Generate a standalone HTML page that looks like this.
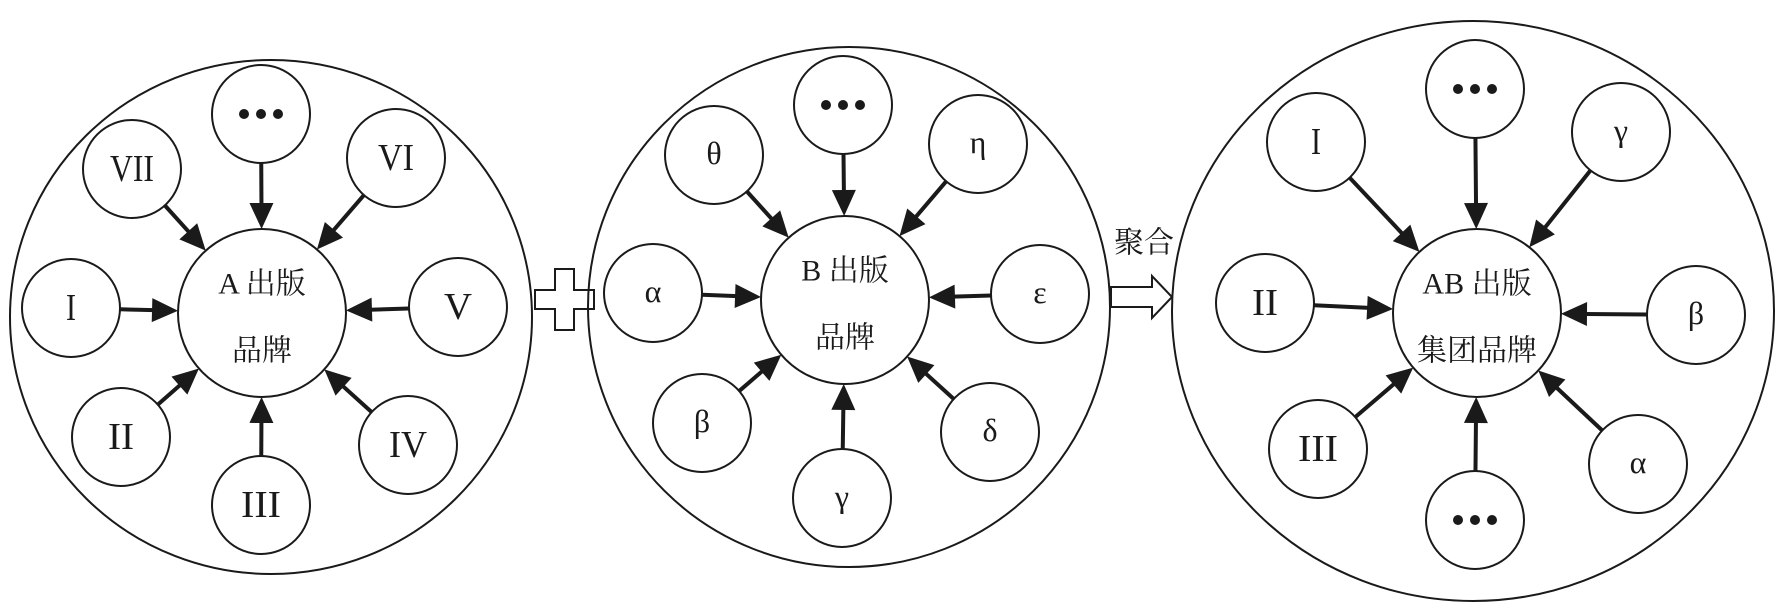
<!DOCTYPE html>
<html><head><meta charset="utf-8">
<style>
html,body{margin:0;padding:0;background:#fff;}
svg{display:block;}
text{font-family:"Liberation Serif","Noto Serif CJK SC",serif;fill:#1a1a1a;text-anchor:middle;dominant-baseline:central;}
.cn{font-family:"Liberation Serif","Noto Serif CJK SC",serif;font-size:30px;}
</style></head>
<body>
<svg id="s" width="1783" height="609" viewBox="0 0 1783 609" xmlns="http://www.w3.org/2000/svg">
<g fill="none" stroke="#1a1a1a" stroke-width="2">
<ellipse cx="271" cy="317" rx="261" ry="257"/>
<ellipse cx="849" cy="307" rx="261" ry="260"/>
<ellipse cx="1473" cy="311" rx="301" ry="290"/>
<path d="M555 269 H574 V290 H594 V309 H574 V330 H555 V309 H535 V290 H555 Z" stroke-width="2"/>
<path d="M1111 287 H1152 V276 L1172 297 L1152 318 V307 H1111 Z" stroke-width="2"/>
</g>
<text class="cn" x="1144" y="243">聚合</text>
<g id="g"></g>
</svg>
<script>
var NS="http://www.w3.org/2000/svg",g=document.getElementById('g');
function el(n,a,p){var e=document.createElementNS(NS,n);for(var k in a)e.setAttribute(k,a[k]);(p||g).appendChild(e);return e;}
var R=49;
var groups=[
 {c:[262,313],r:84,l1:"A 出版",l2:"品牌",n:[
  [261,114,"..."],[132,169,"Ⅶ"],[396,158,"Ⅵ"],[71,308,"Ⅰ"],[458,307,"Ⅴ"],[121,437,"Ⅱ"],[408,445,"Ⅳ"],[261,505,"Ⅲ"]]},
 {c:[845,300],r:84,l1:"B 出版",l2:"品牌",n:[
  [843,105,"..."],[714,155,"θ"],[978,144,"η"],[653,293,"α"],[1040,294,"ε"],[702,423,"β"],[990,432,"δ"],[842,498,"γ"]]},
 {c:[1477,313],r:84,l1:"AB 出版",l2:"集团品牌",n:[
  [1475,89,"..."],[1316,142,"Ⅰ"],[1621,132,"γ"],[1265,303,"Ⅱ"],[1696,315,"β"],[1318,449,"Ⅲ"],[1638,464,"α"],[1475,520,"..."]]}
];
var roman={"Ⅰ":"I","Ⅱ":"II","Ⅲ":"III","Ⅳ":"IV","Ⅴ":"V","Ⅵ":"VI","Ⅶ":"VII"};
groups.forEach(function(G){
 var cx=G.c[0],cy=G.c[1];
 el('circle',{cx:cx,cy:cy,r:G.r,fill:'#fff',stroke:'#1a1a1a','stroke-width':2});
 var t=el('text',{x:cx,y:cy-29,'class':'cn'});t.textContent=G.l1;
 t=el('text',{x:cx,y:cy+38,'class':'cn'});t.textContent=G.l2;
 G.n.forEach(function(n){
  var x=n[0],y=n[1],dx=cx-x,dy=cy-y,d=Math.sqrt(dx*dx+dy*dy),ux=dx/d,uy=dy/d,px=-uy,py=ux;
  var sx=x+ux*R,sy=y+uy*R,ex=cx-ux*G.r,ey=cy-uy*G.r,hl=26,hw=12;
  var bx=ex-ux*hl,by=ey-uy*hl;
  el('line',{x1:sx,y1:sy,x2:bx+ux*2,y2:by+uy*2,stroke:'#1a1a1a','stroke-width':4});
  el('polygon',{points:ex+','+ey+' '+(bx+px*hw)+','+(by+py*hw)+' '+(bx-px*hw)+','+(by-py*hw),fill:'#1a1a1a'});
  el('circle',{cx:x,cy:y,r:R,fill:'#fff',stroke:'#1a1a1a','stroke-width':2});
  if(n[2]==="..."){
   [-17,0,17].forEach(function(o){el('circle',{cx:x+o,cy:y,r:5,fill:'#1a1a1a'});});
  }else{
   var isR=roman[n[2]]!==undefined;
   var tt=el('text',{x:x,y:y+(isR?0:-2),'font-size':isR?38:32});
   tt.textContent=isR?roman[n[2]]:n[2];
   if(isR) tt.setAttribute('textLength',{I:10,II:26,III:40,IV:38,V:28,VI:36,VII:44}[roman[n[2]]]);
   if(isR) tt.setAttribute('lengthAdjust','spacingAndGlyphs');
  }
 });
});
</script>
</body></html>
